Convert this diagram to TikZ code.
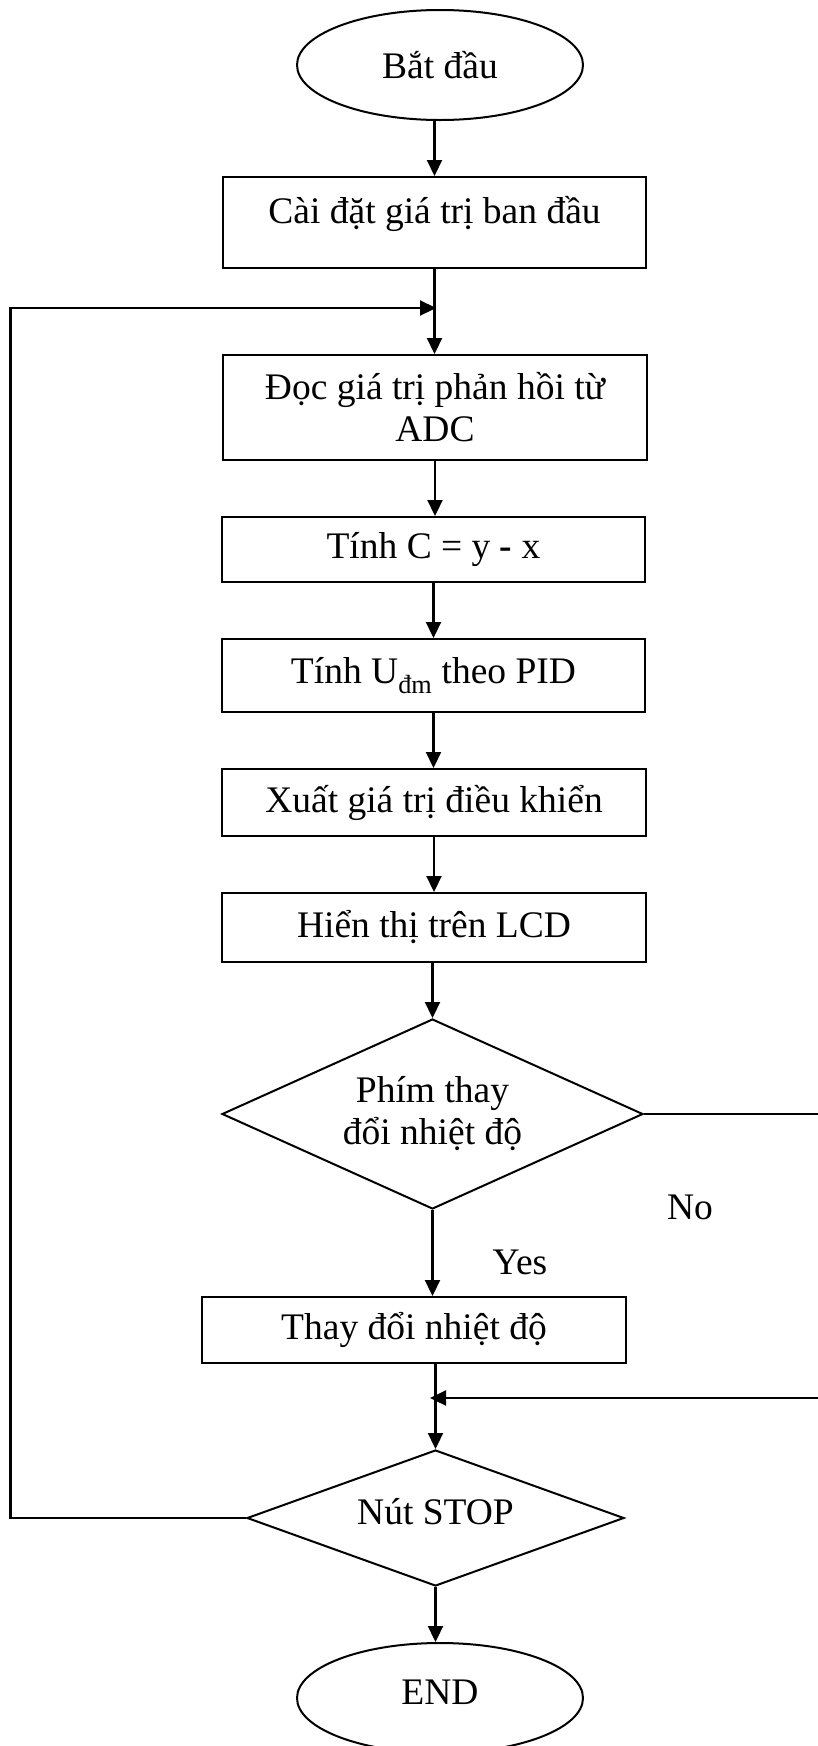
\documentclass[tikz,border=0pt]{standalone}
\usepackage{fontspec}
\setmainfont{Liberation Serif}
\usetikzlibrary{shapes.geometric,arrows.meta}
\begin{document}
\begin{tikzpicture}[x=1pt,y=-1pt,
  every node/.style={font=\fontsize{37.5}{42}\selectfont},
  box/.style={draw,line width=2pt,rectangle,inner sep=0pt,align=center},
  term/.style={draw,line width=2pt,ellipse,inner sep=0pt,minimum width=286pt,minimum height=110pt},
  dec/.style={draw,line width=2pt,diamond,inner sep=0pt,align=center,aspect=2.2},
  arr/.style={line width=2.2pt,-{Triangle[length=16pt,width=15pt]}},
  lbl/.style={inner sep=0pt}]
\useasboundingbox (0,0) rectangle (818,1746);

\node[term] (start) at (440,65) {Bắt đầu};
\node[box,minimum width=423pt,minimum height=91pt] (b1) at (434.5,222.5) {\raisebox{9pt}[\height][\depth]{Cài đặt giá trị ban đầu}};
\node[box,minimum width=424pt,minimum height=105pt] (b2) at (435,407.5) {Đọc giá trị phản hồi từ\\ADC};
\node[box,minimum width=423pt,minimum height=65pt] (b3) at (433.5,549.5) {Tính C = y \textbf{-} x};
\node[box,minimum width=423pt,minimum height=73pt] (b4) at (433.5,675.5) {Tính U\textsubscript{đm} theo PID};
\node[box,minimum width=424pt,minimum height=67pt] (b5) at (434,802.5) {Xuất giá trị điều khiển};
\node[box,minimum width=424pt,minimum height=69pt] (b6) at (434,927.5) {Hiển thị trên LCD};
\node[dec,minimum width=421pt,minimum height=190pt] (d1) at (432.5,1114) {Phím thay\\đổi nhiệt độ};
\node[box,minimum width=423.5pt,minimum height=66pt] (b7) at (414,1330) {Thay đổi nhiệt độ};
\node[dec,minimum width=377pt,minimum height=136pt] (d2) at (435.5,1518) {\raisebox{6pt}[\height][\depth]{Nút STOP}};
\node[term] (end) at (440,1698) {\raisebox{6pt}[\height][\depth]{END}};

\node[lbl] (no) at (690,1207) {No};
\node[lbl] (yes) at (520,1262) {Yes};

\coordinate (loopT) at (436,308);
\coordinate (loopLT) at (10.5,308);
\coordinate (loopLB) at (10.5,1518);
\coordinate (rT) at (830,1114);
\coordinate (rB) at (830,1398);
\coordinate (j2) at (430,1398);

\draw[arr] (start.south -| b1.north) -- (b1.north);
\draw[arr] (b1.south) -- (b1.south |- b2.north);
\draw[arr] (b2.south) -- (b2.south |- b3.north);
\draw[arr] (b3.south) -- (b3.south |- b4.north);
\draw[arr] (b4.south) -- (b4.south |- b5.north);
\draw[arr] (b5.south) -- (b5.south |- b6.north);
\draw[arr] (b6.south -| d1.north) -- (d1.north);
\draw[arr] (d1.south) -- (d1.south |- b7.north);
\draw[arr] (b7.south -| d2.north) -- (d2.north);
\draw[arr] (d2.south) -- (d2.south |- end.north);
\draw[arr] (d2.west) -- (loopLB) -- (loopLT) -- (loopT);
\draw[arr] (d1.east) -- (rT) -- (rB) -- (j2);
\end{tikzpicture}
\end{document}
